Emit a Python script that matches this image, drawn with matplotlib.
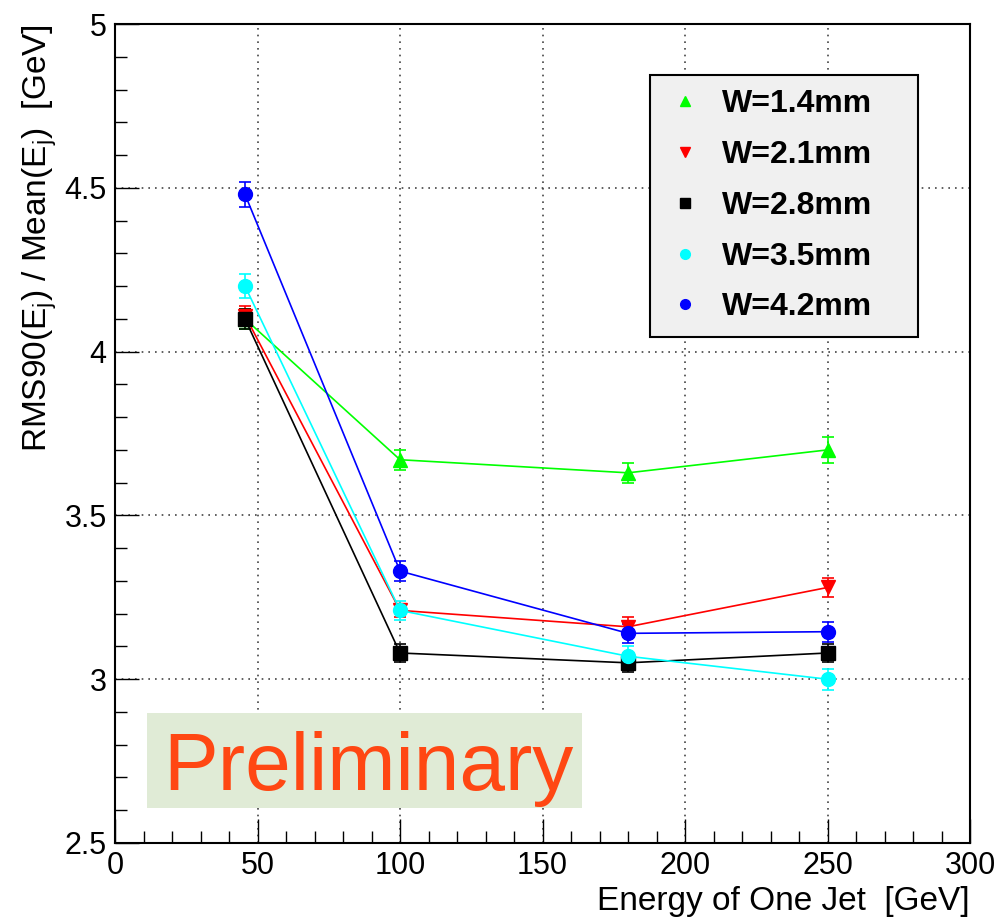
import numpy as np
import matplotlib.pyplot as plt
from matplotlib.ticker import MultipleLocator
from matplotlib.patches import Rectangle

plt.rcParams['font.family'] = ['Liberation Sans', 'DejaVu Sans']
plt.rcParams['mathtext.fontset'] = 'custom'
plt.rcParams['mathtext.rm'] = 'Liberation Sans'
plt.rcParams['mathtext.it'] = 'Liberation Sans'

# jet energies (GeV) and RMS90/Mean for each pad width
energy = [45.6, 100, 180, 250]
labels = ['W=1.4mm', 'W=2.1mm', 'W=2.8mm', 'W=3.5mm', 'W=4.2mm']
w14 = [4.10, 3.67, 3.63, 3.70]
w21 = [4.11, 3.21, 3.16, 3.28]
w28 = [4.10, 3.08, 3.05, 3.08]
w35 = [4.20, 3.21, 3.07, 3.00]
w42 = [4.48, 3.33, 3.14, 3.145]
err14 = [0.03, 0.03, 0.03, 0.04]
err21 = [0.03, 0.02, 0.03, 0.03]
err28 = [0.03, 0.028, 0.028, 0.028]
err35 = [0.037, 0.03, 0.03, 0.032]
err42 = [0.038, 0.03, 0.03, 0.03]

series = [w14, w21, w28, w35, w42]
errors = [err14, err21, err28, err35, err42]
colors = ['#00ff00', '#ff0000', '#000000', '#00ffff', '#0000ff']
markers = ['^', 'v', 's', 'o', 'o']

fig = plt.figure(figsize=(10.02, 9.17), dpi=100)
ax = fig.add_axes([0.1148, 0.0807, 0.8533, 0.8931])

handles = []
for y, e, c, m, lab in zip(series, errors, colors, markers, labels):
    ax.errorbar(energy, y, yerr=e, color=c, marker=m, markersize=10,
                linewidth=1.2, elinewidth=1.2, capsize=4, capthick=1.2)
    # small marker only for the legend
    h, = ax.plot([], [], linestyle='none', marker=m, color=c, markersize=7, label=lab)
    handles.append(h)

ax.set_xlim(0, 300)
ax.set_ylim(2.5, 5)
ax.xaxis.set_major_locator(MultipleLocator(50))
ax.xaxis.set_minor_locator(MultipleLocator(10))
ax.yaxis.set_minor_locator(MultipleLocator(0.1))
ax.set_yticks([2.5, 3, 3.5, 4, 4.5, 5])
ax.set_yticklabels(['2.5', '3', '3.5', '4', '4.5', '5'])
ax.tick_params(which='major', direction='in', length=17, width=1, labelsize=22, pad=6)
ax.tick_params(which='minor', direction='in', length=8.5, width=1)
ax.grid(True, which='major', linestyle=(0, (1, 3)), color='#444444', linewidth=1.2)
for s in ax.spines.values():
    s.set_linewidth(1.5)

ax.set_xlabel('Energy of One Jet  [GeV]', fontsize=24)
ax.xaxis.set_label_coords(1.0, -0.052)
ax.xaxis.label.set_horizontalalignment('right')
ax.set_ylabel(r'RMS90(E$_{\mathrm{j}}$) / Mean(E$_{\mathrm{j}}$)  [GeV]', fontsize=24)
ax.yaxis.set_label_coords(-0.111, 1.0)
ax.yaxis.label.set_verticalalignment('top')
ax.yaxis.label.set_horizontalalignment('right')

# legend box spans x 0.626-0.939 of the axes
leg = ax.legend(handles, labels, loc='upper left',
                bbox_to_anchor=(0.6257, 0.6, 0.3135, 0.3377), mode='expand',
                borderaxespad=0, prop={'weight': 'bold', 'size': 23}, frameon=True,
                fancybox=False, edgecolor='black', facecolor='#f0f0f0', framealpha=1,
                labelspacing=0.65, handletextpad=0.5, borderpad=0.45, handlelength=1.3)
leg.get_frame().set_linewidth(1.5)

# "Preliminary" stamp
ax.add_patch(Rectangle((0.0374, 0.0427), 0.5086, 0.116, transform=ax.transAxes,
                       facecolor='#e0ebd6', edgecolor='none', zorder=3))
ax.text(0.0561, 0.0647, 'Preliminary', transform=ax.transAxes, fontsize=59,
        color='#ff4713', ha='left', va='baseline', zorder=4)

fig.savefig('out.png', dpi=100)
